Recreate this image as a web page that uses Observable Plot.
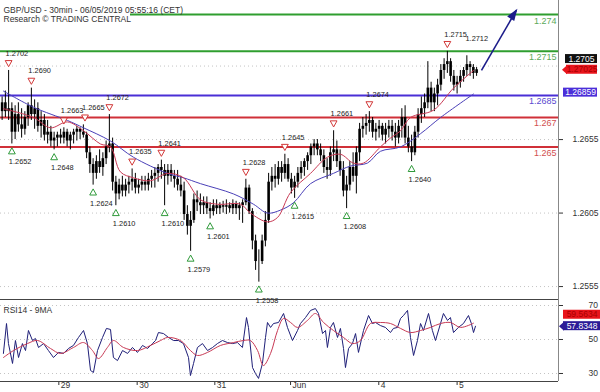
<!DOCTYPE html>
<html><head><meta charset="utf-8">
<script src="https://cdn.jsdelivr.net/npm/d3@7"></script>
<script src="https://cdn.jsdelivr.net/npm/@observablehq/plot@0.6"></script>
<style>
body{margin:0;background:#fff;}
#chart svg{display:block;}
</style></head><body><div id="chart"></div>
<script>
// ---- hourly candles (each slot = two 30-min bars) ----
const hi = [1.2684,1.2688,1.2702,1.2680,1.2678,1.2680,1.2676,1.2674,1.2680,1.2690,
1.2682,1.2680,1.2674,1.2672,1.2668,1.2664,1.2660,1.2660,1.2662,1.2663,
1.2662,1.2660,1.2662,1.2664,1.2663,1.2665,1.2660,1.2650,1.2642,1.2644,
1.2648,1.2646,1.2654,1.2672,1.2656,1.2630,1.2628,1.2630,1.2628,1.2630,
1.2635,1.2632,1.2628,1.2630,1.2630,1.2632,1.2634,1.2636,1.2638,1.2641,
1.2638,1.2638,1.2638,1.2634,1.2634,1.2630,1.2626,1.2610,1.2606,1.2618,
1.2620,1.2618,1.2616,1.2616,1.2612,1.2614,1.2614,1.2612,1.2613,1.2614,
1.2612,1.2614,1.2613,1.2612,1.2614,1.2628,1.2624,1.2608,1.2590,1.2580,
1.2590,1.2606,1.2632,1.2636,1.2638,1.2640,1.2640,1.2645,1.2642,1.2632,
1.2630,1.2636,1.2640,1.2642,1.2646,1.2652,1.2655,1.2655,1.2652,1.2648,
1.2642,1.2650,1.2661,1.2654,1.2648,1.2640,1.2630,1.2640,1.2646,1.2650,
1.2666,1.2670,1.2672,1.2674,1.2670,1.2666,1.2668,1.2666,1.2666,1.2668,
1.2668,1.2666,1.2668,1.2676,1.2678,1.2664,1.2658,1.2664,1.2676,1.2684,
1.2686,1.2708,1.2694,1.2690,1.2696,1.2706,1.2710,1.2715,1.2710,1.2702,
1.2698,1.2702,1.2704,1.2712,1.2708,1.2706,1.2704];
const lo = [1.2668,1.2670,1.2668,1.2652,1.2655,1.2660,1.2656,1.2658,1.2664,1.2668,
1.2662,1.2660,1.2656,1.2654,1.2652,1.2650,1.2648,1.2650,1.2652,1.2652,
1.2650,1.2648,1.2652,1.2654,1.2655,1.2656,1.2642,1.2632,1.2624,1.2628,
1.2632,1.2630,1.2638,1.2646,1.2620,1.2610,1.2614,1.2616,1.2616,1.2618,
1.2620,1.2618,1.2618,1.2620,1.2620,1.2620,1.2622,1.2622,1.2626,1.2628,
1.2610,1.2624,1.2626,1.2622,1.2620,1.2616,1.2600,1.2590,1.2579,1.2598,
1.2606,1.2604,1.2604,1.2604,1.2601,1.2603,1.2604,1.2604,1.2605,1.2604,
1.2605,1.2604,1.2604,1.2600,1.2598,1.2610,1.2604,1.2580,1.2566,1.2558,
1.2570,1.2582,1.2598,1.2620,1.2622,1.2624,1.2626,1.2628,1.2626,1.2618,
1.2615,1.2622,1.2628,1.2630,1.2634,1.2638,1.2644,1.2644,1.2640,1.2632,
1.2628,1.2630,1.2640,1.2636,1.2630,1.2616,1.2608,1.2620,1.2626,1.2618,
1.2640,1.2656,1.2658,1.2660,1.2656,1.2654,1.2656,1.2654,1.2652,1.2656,
1.2654,1.2650,1.2652,1.2656,1.2652,1.2646,1.2640,1.2644,1.2656,1.2666,
1.2670,1.2676,1.2674,1.2674,1.2678,1.2688,1.2696,1.2700,1.2694,1.2688,
1.2686,1.2690,1.2694,1.2698,1.2698,1.2696,1.2698];
const cl = [1.2680,1.2674,1.2676,1.2660,1.2672,1.2665,1.2662,1.2670,1.2678,1.2672,
1.2676,1.2664,1.2668,1.2658,1.2660,1.2654,1.2656,1.2658,1.2656,1.2660,
1.2654,1.2658,1.2660,1.2662,1.2660,1.2658,1.2646,1.2638,1.2632,1.2640,
1.2636,1.2642,1.2650,1.2652,1.2626,1.2618,1.2624,1.2620,1.2624,1.2626,
1.2628,1.2622,1.2624,1.2626,1.2624,1.2628,1.2630,1.2632,1.2636,1.2634,
1.2630,1.2634,1.2630,1.2628,1.2624,1.2620,1.2604,1.2596,1.2600,1.2614,
1.2612,1.2610,1.2612,1.2608,1.2606,1.2610,1.2608,1.2610,1.2609,1.2610,
1.2608,1.2611,1.2608,1.2610,1.2612,1.2622,1.2606,1.2586,1.2572,1.2572,
1.2586,1.2600,1.2626,1.2630,1.2628,1.2636,1.2632,1.2638,1.2628,1.2622,
1.2626,1.2632,1.2636,1.2640,1.2644,1.2650,1.2652,1.2648,1.2644,1.2636,
1.2634,1.2646,1.2648,1.2640,1.2634,1.2620,1.2624,1.2636,1.2630,1.2646,
1.2662,1.2664,1.2666,1.2668,1.2660,1.2662,1.2664,1.2658,1.2662,1.2664,
1.2660,1.2656,1.2664,1.2670,1.2656,1.2650,1.2646,1.2660,1.2672,1.2676,
1.2680,1.2690,1.2680,1.2686,1.2692,1.2702,1.2706,1.2708,1.2698,1.2692,
1.2694,1.2698,1.2702,1.2706,1.2704,1.2700,1.27025];
const firstOpen = 1.2674;

// moving averages on price (time in 30-min bars)
const maRedT = [1.8,20.3,30.8,41.2,51.1,61.5,67.7,73.8,81.8,92.3,102.8,112.6,123.1,133.5,147.7,153.8,164.3,170.5,178.5,190.8,201.2,209.2,217.2,223.4,233.8,240,246.2,252.3,266.5,278.8,291.1];
const maRedV = [1.2676,1.2670,1.2663,1.2667,1.2661,1.2652,1.2650,1.2633,1.2629,1.2627,1.2632,1.2629,1.2614,1.2611,1.2611,1.2605,1.2599,1.2602,1.2619,1.2632,1.2643,1.2645,1.2639,1.2639,1.2650,1.2656,1.2661,1.2670,1.2675,1.2690,1.2702];
const maBlueT = [1.8,20.3,41.2,51.1,67.7,81.8,102.8,112.6,123.1,143.4,155.7,164.3,172.3,180.3,190.8,204.9,215.4,225.8,233.8,246.2,258.5,270.8,291.1];
const maBlueV = [1.2688,1.2677,1.2668,1.2663,1.2654,1.2643,1.2632,1.2629,1.2625,1.2618,1.2611,1.2605,1.2607,1.2612,1.2625,1.2632,1.2637,1.2639,1.2647,1.2650,1.2659,1.2670,1.2686];

// swing annotations
const highT = [5,19,39,52,67,81,99,151,175,205,227,275];
const highV = [1.2702,1.2690,1.2663,1.2665,1.2672,1.2635,1.2641,1.2628,1.2645,1.2661,1.2674,1.2715];
const highLabelOnlyT = [288];
const highLabelOnlyV = [1.2712];
const lowT = [7,33,57,71,101,117,129,159,181,213,253];
const lowV = [1.2652,1.2648,1.2624,1.2610,1.2610,1.2579,1.2601,1.2558,1.2615,1.2608,1.2640];

// support / resistance levels
const levelV = [1.274,1.2715,1.2685,1.267,1.265];
const levelLabel = ["1.274","1.2715","1.2685","1.267","1.265"];
const levelStartT = [80,0,0,0,0];
const levelColor = ["#2f9e2f","#2f9e2f","#4a2fd6","#d03038","#d03038"];
const levelTextColor = ["#5aa85a","#5aa85a","#5a4ad0","#d25050","#d25050"];

// forecast arrow
const arrowT = [296,317.5];
const arrowV = [1.2702,1.2743];

// axes
const priceTicks = [1.2555,1.2605,1.2655];
const priceGrid = [1.2555,1.2605,1.2655,1.2705];
const dayTicks = [35.9,84.1,131.9,178.5,232.8,281.0];
const dayLabels = ["29","30","31","Jun","4","5"];
const rsiTicks = [30,50,70];

// RSI
const rsiT = [1.8,3.7,4.9,7.4,9.2,11.1,13.5,15.4,17.2,19.7,21.5,23.4,26.5,29.5,32.6,35.7,38.8,41.8,44.9,48,51.1,53.5,55.4,57.2,59.7,62.8,65.2,67.7,69.5,72,75.1,78.2,81.2,84.3,87.4,90.5,93.5,95.4,97.2,100.3,103.4,106.5,109.5,112.6,115.7,116.9,118.8,121.2,124.3,127.4,130.5,133.5,136.6,139.7,142.8,145.8,148.9,151.4,152.6,155.1,156.9,158.8,161.2,163.1,164.3,166.2,168,171.1,174.2,176.6,179.7,182.8,184.6,187.7,190.8,193.8,195.7,198.2,200,201.2,203.1,204.9,207.4,209.2,211.1,212.3,214.2,216.6,218.5,220.3,223.4,226.5,228.9,230.8,233.8,236.9,240,241.8,244.3,246.2,248,250.5,252.3,254.2,256.6,258.5,260.3,263.4,265.8,267.7,270.8,272.6,275.1,276.9,278.8,281.8,284.9,288,289.8,291.1,292.3];
const rsiV = [41.8,59.4,47.6,35.9,49.4,39.4,47.6,43.5,55.3,49.4,50.6,45.3,47.6,43.5,39.4,42.4,41.8,44.7,46.5,51.2,55.3,47.6,31.8,30.6,43.5,51.2,56.5,55.9,39.4,37.6,43.5,41.8,45.3,42.4,46.5,44.7,47.6,49.4,54.1,53.5,51.2,49.4,49.4,47.6,39.4,28.8,35.9,45.3,47.6,43.5,45.3,47.6,49.4,48.2,47.6,48.2,45.3,62.9,57.1,33.5,30.0,27.1,35.9,51.2,60.0,57.1,59.4,60.0,65.3,57.1,49.4,55.3,59.4,62.9,67.1,68.2,65.3,53.5,55.3,45.3,57.1,60.0,51.2,56.5,44.7,33.5,44.7,47.6,53.5,42.4,55.3,64.1,59.4,60.0,58.2,57.1,54.1,56.5,57.1,62.4,64.1,67.1,51.2,40.6,49.4,59.4,55.3,65.3,55.3,49.4,59.4,65.3,61.2,62.9,54.1,57.1,59.4,64.1,59.4,54.1,57.8];
const rsiMaT = [1.8,8,16.6,22.8,30.8,36.9,44.9,51.1,56.6,60.3,65.8,69.5,75.7,84.3,92.3,98.5,102.8,110.8,116.9,121.2,127.4,135.4,143.4,149.5,153.8,158.2,161.8,166.2,170.5,174.2,178.5,182.8,188.9,193.8,198.8,204.9,211.1,216.6,221.5,227.7,233.8,240,246.2,252.3,258.5,264.6,270.8,276.9,283.1,291.1];
const rsiMaV = [39.4,43.5,47.6,49.4,44.7,41.8,45.3,48.2,43.5,38.8,45.3,49.4,45.3,43.5,46.5,49.4,51.2,49.4,43.5,40.6,42.4,46.5,48.2,49.4,49.4,43.5,34.7,41.8,55.3,62.4,60.0,57.1,61.2,65.3,60.0,55.3,51.2,47.6,49.4,59.4,60.0,59.4,56.5,54.1,55.3,57.1,59.4,60.0,57.1,59.6];

// value tags on the right
const priceTags = [
  {v:1.2705, label:"1.2705", fill:"#111", text:"#fff", left:7, w:32, dy:-7, arrow:false},
  {v:1.27025, label:"1.27025", fill:"#e8141c", text:"#a80000", left:8, w:31, dy:0, arrow:true},
  {v:1.26859, label:"1.26859", fill:"#4b2fd9", text:"#fff", left:5, w:34, dy:-1.5, arrow:false}
];
const rsiTags = [
  {v:59.5634, label:"59.5634", fill:"#e8141c", text:"#a80000", left:5, w:37, dy:-8.5, arrow:false},
  {v:57.8348, label:"57.8348", fill:"#2b1c97", text:"#fff", left:5, w:37, dy:0, arrow:true}
];

const X_MAX = 343.4;
const FONT = "'Liberation Sans', Arial, sans-serif";

const candles = hi.map((h, i) => ({t: 2 * i + 1, hi: h, lo: lo[i], o: i ? cl[i - 1] : firstOpen, c: cl[i]}));
const maRed = maRedT.map((t, i) => ({t, v: maRedV[i]}));
const maBlue = maBlueT.map((t, i) => ({t, v: maBlueV[i]}));
const highs = highT.map((t, i) => ({t, v: highV[i]}));
const highLabels = highs.concat(highLabelOnlyT.map((t, i) => ({t, v: highLabelOnlyV[i]})));
const lows = lowT.map((t, i) => ({t, v: lowV[i]}));
const levels = levelV.map((v, i) => ({v, label: levelLabel[i], start: levelStartT[i], color: levelColor[i], tc: levelTextColor[i]}));
const rsi = rsiT.map((t, i) => ({t, v: rsiV[i]}));
const rsiMa = rsiMaT.map((t, i) => ({t, v: rsiMaV[i]}));
const arrowData = [{t1: arrowT[0], v1: arrowV[0], t2: arrowT[1], v2: arrowV[1]}];
const fmt4 = d3.format(".4f");

const triDown = {draw(c) { const h = 3.4; c.moveTo(-h, -h * 0.85); c.lineTo(h, -h * 0.85); c.lineTo(0, h * 0.95); c.closePath(); }};
const triUp = {draw(c) { const h = 3.4; c.moveTo(-h, h * 0.85); c.lineTo(h, h * 0.85); c.lineTo(0, -h * 0.95); c.closePath(); }};
const triLeft = {draw(c) { c.moveTo(-4.5, 0); c.lineTo(0.5, -4.5); c.lineTo(0.5, 4.5); c.closePath(); }};
// filled arrow head pointing up-right (tip at origin)
const arrowHead = {draw(c) { c.moveTo(1, -1.5); c.lineTo(-2.2, 10.8); c.lineTo(-9.2, 6.2); c.closePath(); }};

function tagMarks(tags) {
  const out = [];
  for (const g of tags) {
    out.push(Plot.rect([g], {x1: X_MAX, x2: X_MAX, y1: "v", y2: "v", insetLeft: g.left, insetRight: -(g.left + g.w), insetTop: -4.5, insetBottom: -4.5, dy: g.dy, fill: g.fill}));
    if (g.arrow) out.push(Plot.dot([g], {x: X_MAX, y: "v", symbol: triLeft, r: 3, fill: g.fill, dx: g.left, dy: g.dy}));
    out.push(Plot.text([g], {x: X_MAX, y: "v", text: "label", dx: g.left + g.w / 2, dy: g.dy, fill: g.text, fontSize: 8.5, textAnchor: "middle"}));
  }
  return out;
}

const main = Plot.plot({
  width: 600, height: 299,
  marginTop: 0, marginBottom: 0, marginLeft: 0, marginRight: 42,
  style: {fontFamily: FONT, fontSize: "8.5px", color: "#333", background: "#fff", overflow: "visible"},
  x: {domain: [0, X_MAX], axis: null},
  y: {domain: [1.25462, 1.27496], axis: "right", ticks: priceTicks, tickFormat: fmt4, tickSize: 4, tickPadding: 10, label: null},
  marks: [
    Plot.ruleY(priceGrid, {stroke: "#c4c4c4", strokeDasharray: "1,3"}),
    ...levels.map(l => Plot.ruleY([l], {y: "v", x1: "start", x2: X_MAX, stroke: l.color, strokeWidth: 2})),
    Plot.ruleX(candles, {x: "t", y1: "lo", y2: "hi", stroke: "#000", strokeWidth: 1}),
    Plot.ruleX(candles, {x: "t", y1: "o", y2: "c", stroke: "#000", strokeWidth: 2.6}),
    Plot.line(maBlue, {x: "t", y: "v", stroke: "#4a40b8", strokeWidth: 1, curve: "catmull-rom"}),
    Plot.line(maRed, {x: "t", y: "v", stroke: "#c83a55", strokeWidth: 1, curve: "catmull-rom"}),
    ...levels.map(l => Plot.text([l], {x: X_MAX, y: "v", text: "label", dx: -2, dy: 6, textAnchor: "end", fill: l.tc, fontSize: 9})),
    Plot.dot(highs, {x: "t", y: "v", symbol: triDown, r: 3, stroke: "#d23838", fill: "#fff", strokeWidth: 1, dy: -7}),
    Plot.dot(lows, {x: "t", y: "v", symbol: triUp, r: 3, stroke: "#2f9a3a", fill: "#fff", strokeWidth: 1, dy: 7}),
    Plot.text(highLabels, {x: "t", y: "v", text: d => fmt4(d.v), dx: -3, dy: -17, textAnchor: "start", fill: "#222", fontSize: 7.4}),
    Plot.text(lows, {x: "t", y: "v", text: d => fmt4(d.v), dx: -3, dy: 18, textAnchor: "start", fill: "#222", fontSize: 7.4}),
    Plot.link(arrowData, {x1: "t1", y1: "v1", x2: "t2", y2: "v2", stroke: "#1c1c8a", strokeWidth: 1.6}),
    Plot.dot(arrowData, {x: "t2", y: "v2", symbol: arrowHead, r: 3, fill: "#1c1c8a", stroke: "none"}),
    Plot.ruleX([X_MAX], {stroke: "#888"}),
    ...tagMarks(priceTags),
    Plot.text([0], {frameAnchor: "top-left", dx: 3, dy: 6, text: () => "GBP/USD - 30min - 06/05/2019 05:55:16 (CET)", textAnchor: "start", fill: "#333", fontSize: 8.5}),
    Plot.text([0], {frameAnchor: "top-left", dx: 3, dy: 15.5, text: () => "Research \u00A9 TRADING CENTRAL", textAnchor: "start", fill: "#333", fontSize: 8.5})
  ]
});

const lower = Plot.plot({
  width: 600, height: 93,
  marginTop: 0, marginBottom: 11, marginLeft: 0, marginRight: 42,
  style: {fontFamily: FONT, fontSize: "8.5px", color: "#333", background: "#fff", overflow: "visible"},
  x: {domain: [0, X_MAX], axis: "bottom", ticks: dayTicks, tickFormat: () => "", tickSize: 4, label: null},
  y: {domain: [25.29, 73.53], axis: "right", ticks: rsiTicks, tickSize: 4, tickPadding: 26, label: null},
  marks: [
    Plot.ruleY(rsiTicks, {stroke: "#c4c4c4", strokeDasharray: "1,3"}),
    Plot.line(rsi, {x: "t", y: "v", stroke: "#1f1f78", strokeWidth: 1}),
    Plot.line(rsiMa, {x: "t", y: "v", stroke: "#c83a55", strokeWidth: 1, curve: "catmull-rom"}),
    Plot.ruleY([73.53], {stroke: "#444"}),
    Plot.ruleY([25.29], {stroke: "#444"}),
    Plot.ruleX([X_MAX], {stroke: "#888"}),
    Plot.text(dayTicks, {x: d => d, text: (d, i) => dayLabels[i], frameAnchor: "bottom", dx: 2, dy: 6, textAnchor: "start", fill: "#333", fontSize: 8.5}),
    ...tagMarks(rsiTags),
    Plot.text([0], {frameAnchor: "top-left", dx: 3, dy: 7, text: () => "RSI14 - 9MA", textAnchor: "start", fill: "#333", fontSize: 8.5})
  ]
});

const host = document.getElementById("chart");
host.appendChild(main);
host.appendChild(lower);
</script>
</body></html>
